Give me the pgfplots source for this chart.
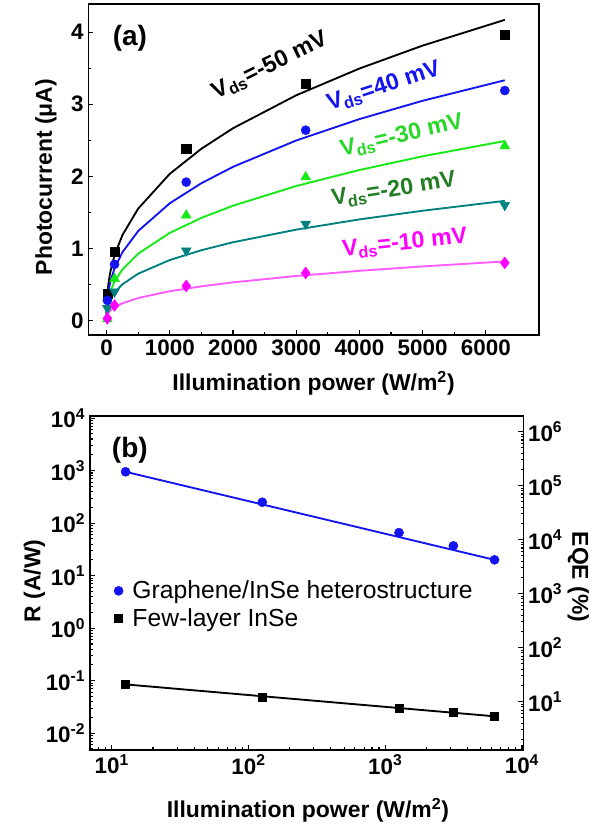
\documentclass[border=0pt]{standalone}
\usepackage{fontspec}
\setmainfont{Liberation Sans}
\usepackage{pgfplots}
\pgfplotsset{compat=1.18}
\definecolor{cblue}{RGB}{20,20,240}
\definecolor{cgreen}{RGB}{20,235,20}
\definecolor{cgreentxt}{RGB}{40,215,40}
\definecolor{cdkgreen}{RGB}{35,125,35}
\definecolor{cteal}{RGB}{0,128,128}
\definecolor{cmag}{RGB}{255,0,255}
\definecolor{cmagl}{RGB}{255,90,255}
\begin{document}
\begin{tikzpicture}
\useasboundingbox (0pt,0pt) rectangle (450pt,621.75pt);
\pgfplotsset{
  every axis/.append style={
    scale only axis,
    tick align=inside,
    major tick length=3.75pt,
    minor tick length=2pt,
    every tick/.style={black, line width=0.8pt},
    axis line style={line width=0.9pt},
    tick label style={font=\fontsize{16.8}{19}\selectfont\bfseries},
    label style={font=\fontsize{17.2}{19}\selectfont\bfseries},
  },
}
% ---------------- panel (a)
\begin{axis}[
  at={(66.2pt,370.5pt)}, anchor=south west,
  width=338pt, height=248.25pt,
  xmin=-290, xmax=6840, ymin=-0.2, ymax=4.39,
  xtick={0,1000,2000,3000,4000,5000,6000}, ytick={0,1,2,3,4},
  minor x tick num=1, minor y tick num=1,
  tick pos=left,
  /pgf/number format/set thousands separator={},
  /pgf/number format/assume math mode=true,
  xlabel={Illumination power (W/m\textsuperscript{2})},
  ylabel={Photocurrent (μA)},
  xlabel style={at={(axis description cs:0.5,-0.145)}, anchor=center},
  ylabel style={at={(axis description cs:-0.094,0.477)}, anchor=center},
  clip=false,
]
\addplot[black, line width=1.4pt] coordinates {(0,0)(1,0.138)(5,0.258)(12.6,0.37)(30,0.518)(60,0.679)(126,0.907)(250,1.185)(500,1.553)(1000,2.035)(1500,2.383)(2000,2.667)(3000,3.124)(4000,3.495)(5000,3.813)(6300,4.17)};
\addplot[cblue, line width=1.4pt] coordinates {(0,0)(1,0.110)(5,0.206)(12.6,0.295)(30,0.414)(60,0.543)(126,0.725)(250,0.947)(500,1.242)(1000,1.627)(1500,1.905)(2000,2.132)(3000,2.497)(4000,2.794)(5000,3.048)(6300,3.333)};
\addplot[cgreen, line width=1.4pt] coordinates {(0,0)(1,0.082)(5,0.154)(12.6,0.221)(30,0.310)(60,0.406)(126,0.542)(250,0.708)(500,0.928)(1000,1.216)(1500,1.424)(2000,1.593)(3000,1.866)(4000,2.088)(5000,2.278)(6300,2.49)};
\addplot[cteal, line width=1.4pt] coordinates {(0,0)(1,0.065)(5,0.118)(12.6,0.167)(30,0.230)(60,0.297)(126,0.390)(250,0.503)(500,0.650)(1000,0.840)(1500,0.976)(2000,1.086)(3000,1.261)(4000,1.403)(5000,1.523)(6300,1.66)};
\addplot[cmagl, line width=1.4pt] coordinates {(0,0)(1,0.030)(5,0.054)(12.6,0.077)(30,0.107)(60,0.140)(126,0.185)(250,0.240)(500,0.313)(1000,0.407)(1500,0.475)(2000,0.530)(3000,0.618)(4000,0.690)(5000,0.751)(6300,0.82)};
\addplot[only marks, mark=square*, mark size=3.4pt, black] coordinates {(12.6,0.37)(126,0.96)(1260,2.38)(3150,3.29)(6300,3.96)};
\addplot[only marks, mark=*, mark size=3.4pt, cblue] coordinates {(12.6,0.28)(126,0.78)(1260,1.92)(3150,2.64)(6300,3.19)};
\addplot[only marks, mark=triangle*, mark size=4.2pt, cgreen] coordinates {(12.6,0.02)(126,0.58)(1260,1.46)(3150,1.99)(6300,2.42)};
\addplot[only marks, mark=triangle*, mark options={rotate=180}, mark size=4.2pt, cteal] coordinates {(12.6,0.17)(126,0.40)(1260,0.97)(3150,1.34)(6300,1.60)};
\addplot[only marks, mark=diamond*, mark size=4.4pt, cmag] coordinates {(12.6,0.03)(126,0.21)(1260,0.48)(3150,0.66)(6300,0.80)};
\node[font=\fontsize{21}{23}\selectfont\bfseries] at (axis cs:369,3.92) {(a)};
\node[rotate=26, text=black, font=\fontsize{17.5}{20}\selectfont\bfseries] at (axis cs:2584,3.53) {V\textsubscript{ds}=-50 mV};
\node[rotate=18, text=cblue, font=\fontsize{17.5}{20}\selectfont\bfseries] at (axis cs:4388,3.24) {V\textsubscript{ds}=40 mV};
\node[rotate=13, text=cgreentxt, font=\fontsize{17.5}{20}\selectfont\bfseries] at (axis cs:4672,2.56) {V\textsubscript{ds}=-30 mV};
\node[rotate=9, text=cdkgreen, font=\fontsize{17.5}{20}\selectfont\bfseries] at (axis cs:4546,1.81) {V\textsubscript{ds}=-20 mV};
\node[rotate=6, text=cmag, font=\fontsize{17.5}{20}\selectfont\bfseries] at (axis cs:4720,1.07) {V\textsubscript{ds}=-10 mV};
\end{axis}
% ---------------- panel (b) left
\begin{axis}[
  at={(67.5pt,59.25pt)}, anchor=south west,
  width=325pt, height=250.5pt,
  xmode=log, ymode=log,
  xmin=6.92, xmax=10233, ymin=0.00479, ymax=10965,
  xtick={10,100,1000,10000},
  xticklabels={10\textsuperscript{1},10\textsuperscript{2},10\textsuperscript{3},10\textsuperscript{4}},
  minor xtick={7,8,9,20,30,40,50,60,70,80,90,200,300,400,500,600,700,800,900,2000,3000,4000,5000,6000,7000,8000,9000},
  ytick={0.01,0.1,1,10,100,1000,10000},
  yticklabels={10\textsuperscript{-2},10\textsuperscript{-1},10\textsuperscript{0},10\textsuperscript{1},10\textsuperscript{2},10\textsuperscript{3},10\textsuperscript{4}},
  minor ytick={0.005,0.006,0.007,0.008,0.009,0.02,0.03,0.04,0.05,0.06,0.07,0.08,0.09,0.2,0.3,0.4,0.5,0.6,0.7,0.8,0.9,2,3,4,5,6,7,8,9,20,30,40,50,60,70,80,90,200,300,400,500,600,700,800,900,2000,3000,4000,5000,6000,7000,8000,9000},
  tick pos=left,
  xlabel={Illumination power (W/m\textsuperscript{2})},
  ylabel={R (A/W)},
  xlabel style={at={(axis description cs:0.503,-0.18)}, anchor=center},
  ylabel style={at={(axis description cs:-0.128,0.506)}, anchor=center},
  legend style={at={(axis description cs:0.055,0.515)}, anchor=north west, draw=none, fill=none,
    font=\fontsize{18.5}{21}\selectfont, inner sep=0pt, column sep=5pt, row sep=2pt, cells={anchor=west}},
]
\addplot[cblue, line width=1.4pt, forget plot] coordinates {(12.6,950)(6300,20)};
\addplot[only marks, mark=*, mark size=3.4pt, cblue] coordinates {(12.6,950)(126,250)(1260,66)(3150,37)(6300,20)};
\addlegendentry{Graphene/InSe heterostructure}
\addplot[black, line width=1.4pt, forget plot] coordinates {(12.6,0.085)(6300,0.021)};
\addplot[only marks, mark=square*, mark size=3pt, black] coordinates {(12.6,0.084)(126,0.048)(1260,0.030)(3150,0.0254)(6300,0.021)};
\addlegendentry{Few-layer InSe}
\node[font=\fontsize{21}{23}\selectfont\bfseries] at (axis description cs:0.092,0.898) {(b)};
\end{axis}
% ---------------- panel (b) right
\begin{axis}[
  at={(67.5pt,59.25pt)}, anchor=south west,
  width=325pt, height=250.5pt,
  xmode=log, ymode=log,
  xmin=6.92, xmax=10233, ymin=1.274, ymax=1.95e6,
  axis x line=none, axis y line*=right,
  ytick={10,100,1000,10000,100000,1000000},
  yticklabels={10\textsuperscript{1},10\textsuperscript{2},10\textsuperscript{3},10\textsuperscript{4},10\textsuperscript{5},10\textsuperscript{6}},
  minor ytick={2,3,4,5,6,7,8,9,20,30,40,50,60,70,80,90,200,300,400,500,600,700,800,900,2000,3000,4000,5000,6000,7000,8000,9000,20000,30000,40000,50000,60000,70000,80000,90000,200000,300000,400000,500000,600000,700000,800000,900000},
  ylabel={EQE (\%)},
  ylabel style={at={(axis description cs:1.127,0.518)}, anchor=center, rotate=180},
]
\addplot[draw=none] coordinates {(100,100)};
\end{axis}
\end{tikzpicture}
\end{document}
